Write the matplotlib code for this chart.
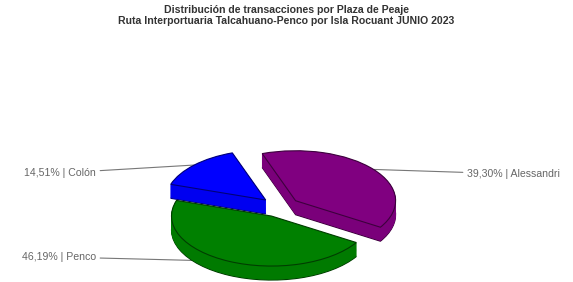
import numpy as np
import matplotlib
matplotlib.use("Agg")
import matplotlib.pyplot as plt

# ---- data ----
plazas = ["Alessandri", "Penco", "Colón"]
shares = [39.30, 46.19, 14.51]
top_colors = ["#800080", "#008000", "#0000FF"]
side_colors = ["#7a007a", "#007a00", "#0000f0"]
edge_colors = ["#3d003d", "#003d00", "#000078"]
title_lines = ["Distribución de transacciones por Plaza de Peaje",
               "Ruta Interportuaria Talcahuano-Penco por Isla Rocuant JUNIO 2023"]

W, H = 573, 282
fig = plt.figure(figsize=(W / 100, H / 100), dpi=100)
ax = fig.add_axes([0, 0, 1, 1])

# data coords: x in px, y in half-px (squashes the pie into an ellipse)
def py(y_img):
    return (H - y_img) * 2

center = (280, py(207))
radius = 100
explode = [20, 20, 20]
thickness = 28
n_layers = 16
depth_order = {0: 1, 1: 3, 2: 0}  # back-to-front

top_wedges = None
for k in range(n_layers + 1):
    off = -thickness + thickness * k / n_layers
    is_top = (k == n_layers)
    is_bottom = (k == 0)
    cols = top_colors if is_top else side_colors
    wedges, _ = ax.pie(shares, radius=radius, center=(center[0], center[1] + off),
                       startangle=109.5, counterclock=False, explode=explode,
                       colors=cols, frame=True,
                       wedgeprops=dict(linewidth=0.8 if (is_top or is_bottom) else 0))
    for i, w in enumerate(wedges):
        if is_top or is_bottom:
            w.set_edgecolor(edge_colors[i])
        else:
            w.set_edgecolor(side_colors[i])
            w.set_linewidth(0.6)
        w.set_zorder(2 + depth_order[i] + k * 0.01)
    if is_top:
        top_wedges = wedges

# labels with leader lines
label_pos = [(467, 174, "left"), (96, 257, "right"), (96, 173, "right")]
for i, w in enumerate(top_wedges):
    thm = np.deg2rad((w.theta1 + w.theta2) / 2)
    xr = w.center[0] + radius * np.cos(thm)
    yr = w.center[1] + radius * np.sin(thm)
    lx, ly, ha = label_pos[i]
    txt = f"{shares[i]:.2f}".replace(".", ",") + f"% | {plazas[i]}"
    ax.annotate(txt, xy=(xr, yr), xytext=(lx, py(ly)), ha=ha, va="center",
                fontsize=7.6, color="#666666", family="Liberation Sans",
                arrowprops=dict(arrowstyle="-", color="#777777", lw=0.8,
                                shrinkA=1, shrinkB=0),
                zorder=1)

ax.set_xlim(0, W)
ax.set_ylim(0, 2 * H)
ax.set_aspect("auto")
ax.axis("off")

fig.text(0.5, 1 - 10 / H, title_lines[0], ha="center", va="center",
         fontsize=7.6, fontweight="bold", color="#333333", family="Liberation Sans")
fig.text(0.5, 1 - 21 / H, title_lines[1], ha="center", va="center",
         fontsize=7.6, fontweight="bold", color="#333333", family="Liberation Sans")

fig.savefig("out.png", dpi=100)
